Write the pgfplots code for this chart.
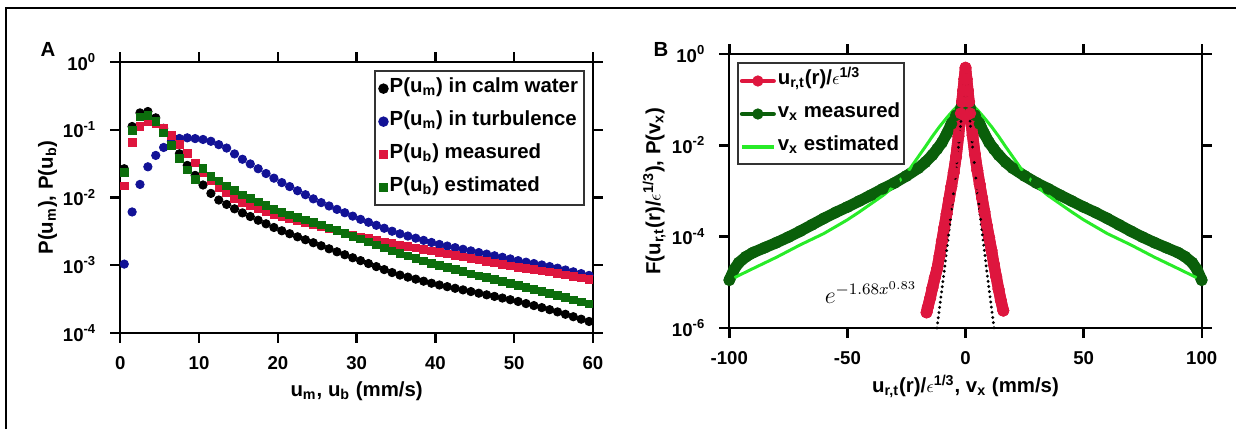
\documentclass[border=0pt]{standalone}
\usepackage{fontspec}
\setmainfont{Liberation Sans}
\usepackage{pgfplots}
\pgfplotsset{compat=1.18}
\definecolor{cblue}{RGB}{18,18,150}
\definecolor{cred}{RGB}{222,22,62}
\definecolor{cgreenA}{RGB}{12,110,12}
\definecolor{cgreenB}{RGB}{10,95,10}
\definecolor{clime}{RGB}{40,235,40}
\newcommand\tickfont{\fontsize{9.3}{10}\selectfont\bfseries}
\newcommand\labfont{\fontsize{10.2}{12}\selectfont\bfseries}
\newcommand\eps{{\normalfont\fontsize{9}{10}\selectfont$\epsilon$}}
\pgfplotsset{
  igorstyle/.style={
    scale only axis,
    axis line style={line width=1pt},
    tick align=outside,
    major tick length=5pt,
    major tick style={draw=black, line width=1.2pt},
    yminorticks=false,
    tick label style={font=\tickfont},
    xticklabel style={yshift=-3pt},
    yticklabel style={xshift=-3.5pt},
    label style={font=\labfont},
    clip=false,
    legend style={font=\labfont, draw=black!80, line width=1pt, row sep=0pt,
      nodes={inner sep=1pt, text height=9pt, text depth=5.5pt}},
    legend cell align=left,
  },
}
\begin{document}
\begin{tikzpicture}
\useasboundingbox (0,0) rectangle (618pt,214.5pt);
\draw[line width=0.7pt] (3pt,0pt) -- (3pt,210.5pt) -- (618pt,210.5pt);
\node[font=\labfont] at (24pt,190pt) {A};
\node[font=\labfont] at (330.5pt,190pt) {B};

% ---------------- Panel A ----------------
\begin{semilogyaxis}[igorstyle, at={(60.15pt,48pt)}, anchor=south west, width=236.35pt, height=135.5pt,
  xmin=0, xmax=60, ymin=1e-4, ymax=1,
  xtick={0,10,20,30,40,50,60}, xticklabels={0,10,20,30,40,50,60},
  ytick={1e-4,1e-3,1e-2,1e-1,1},
  yticklabels={10\textsuperscript{-4},10\textsuperscript{-3},10\textsuperscript{-2},10\textsuperscript{-1},10\textsuperscript{0}},
  xlabel={u\textsubscript{m}, u\textsubscript{b} (mm/s)},
  ylabel={P(u\textsubscript{m}), P(u\textsubscript{b})},
  xlabel style={at={(axis description cs:0.5,-0.215)}, anchor=center},
  ylabel style={at={(axis description cs:-0.154,0.5)}, anchor=center},
  legend style={at={(axis description cs:0.983,0.970)}, anchor=north east, inner xsep=2pt, inner ysep=0.5pt},
  legend image code/.code={\draw[mark repeat=2,mark phase=2,#1] plot coordinates {(0pt,0pt) (7pt,0pt) (14pt,0pt)};},
  after end axis/.code={
    \foreach \t in {0,...,6} {
      \draw[line width=1.2pt, black] (rel axis cs:\t/6,0) -- ++(0pt,-5pt);
      \draw[line width=1.2pt, black] (rel axis cs:\t/6,1) -- ++(0pt,5pt);
    }
    \foreach \t in {0,...,4} {
      \draw[line width=1.2pt, black] (rel axis cs:0,\t/4) -- ++(-5pt,0pt);
      \draw[line width=1.2pt, black] (rel axis cs:1,\t/4) -- ++(5pt,0pt);
    }
  },
]
\addplot[only marks, mark=*, mark size=2.1pt, black] table {
0.5 2.66e-2
1.5 0.1117
2.5 0.1774
3.5 0.186
4.5 0.150
5.5 0.105
6.5 0.0676
7.5 0.0442
8.5 0.0298
9.5 0.0212
10.5 0.0153
11.5 0.0115
12.5 0.00918
13.5 0.00791
14.5 0.00681
15.5 0.00593
16.5 0.00524
17.5 0.00462
18.5 0.00409
19.5 0.00361
20.5 0.00323
21.5 0.00292
22.5 0.00263
23.5 0.00238
24.5 0.00215
25.5 0.00194
26.5 0.00175
27.5 0.00158
28.5 0.00143
29.5 0.00129
30.5 0.00117
31.5 0.00106
32.5 9.55e-4
33.5 8.63e-4
34.5 7.80e-4
35.5 7.16e-4
36.5 6.68e-4
37.5 6.24e-4
38.5 5.82e-4
39.5 5.43e-4
40.5 5.11e-4
41.5 4.83e-4
42.5 4.57e-4
43.5 4.33e-4
44.5 4.09e-4
45.5 3.87e-4
46.5 3.66e-4
47.5 3.47e-4
48.5 3.28e-4
49.5 3.10e-4
50.5 2.92e-4
51.5 2.72e-4
52.5 2.54e-4
53.5 2.37e-4
54.5 2.21e-4
55.5 2.05e-4
56.5 1.89e-4
57.5 1.74e-4
58.5 1.60e-4
59.5 1.48e-4
};
\addlegendentry{P(u\textsubscript{m}) in calm water}
\addplot[only marks, mark=*, mark size=2.1pt, cblue] table {
0.5 1.04e-3
1.5 6.12e-3
2.5 1.56e-2
3.5 2.84e-2
4.5 4.18e-2
5.5 5.48e-2
6.5 6.64e-2
7.5 7.43e-2
8.5 7.60e-2
9.5 7.41e-2
10.5 7.19e-2
11.5 6.76e-2
12.5 6.03e-2
13.5 5.37e-2
14.5 4.40e-2
15.5 3.67e-2
16.5 3.13e-2
17.5 2.66e-2
18.5 2.26e-2
19.5 1.93e-2
20.5 1.66e-2
21.5 1.45e-2
22.5 1.26e-2
23.5 1.10e-2
24.5 9.55e-3
25.5 8.41e-3
26.5 7.50e-3
27.5 6.68e-3
28.5 5.96e-3
29.5 5.31e-3
30.5 4.76e-3
31.5 4.31e-3
32.5 3.89e-3
33.5 3.52e-3
34.5 3.18e-3
35.5 2.91e-3
36.5 2.70e-3
37.5 2.51e-3
38.5 2.33e-3
39.5 2.17e-3
40.5 2.03e-3
41.5 1.92e-3
42.5 1.82e-3
43.5 1.72e-3
44.5 1.63e-3
45.5 1.54e-3
46.5 1.46e-3
47.5 1.38e-3
48.5 1.31e-3
49.5 1.24e-3
50.5 1.17e-3
51.5 1.11e-3
52.5 1.06e-3
53.5 1.01e-3
54.5 9.57e-4
55.5 9.06e-4
56.5 8.51e-4
57.5 8.00e-4
58.5 7.53e-4
59.5 7.08e-4
};
\addlegendentry{P(u\textsubscript{m}) in turbulence}
\addplot[only marks, mark=square*, mark size=1.9pt, cred] table {
0.5 1.48e-2
1.5 6.56e-2
2.5 0.113
3.5 0.132
4.5 0.124
5.5 0.107
6.5 8.22e-2
7.5 6.07e-2
8.5 4.47e-2
9.5 3.26e-2
10.5 2.32e-2
11.5 1.75e-2
12.5 1.41e-2
13.5 1.17e-2
14.5 9.77e-3
15.5 8.47e-3
16.5 7.66e-3
17.5 6.92e-3
18.5 6.25e-3
19.5 5.65e-3
20.5 5.19e-3
21.5 4.84e-3
22.5 4.52e-3
23.5 4.22e-3
24.5 3.94e-3
25.5 3.67e-3
26.5 3.43e-3
27.5 3.20e-3
28.5 2.99e-3
29.5 2.79e-3
30.5 2.62e-3
31.5 2.48e-3
32.5 2.34e-3
33.5 2.22e-3
34.5 2.10e-3
35.5 1.99e-3
36.5 1.89e-3
37.5 1.80e-3
38.5 1.71e-3
39.5 1.63e-3
40.5 1.55e-3
41.5 1.47e-3
42.5 1.40e-3
43.5 1.33e-3
44.5 1.26e-3
45.5 1.20e-3
46.5 1.14e-3
47.5 1.08e-3
48.5 1.03e-3
49.5 9.79e-4
50.5 9.35e-4
51.5 8.97e-4
52.5 8.61e-4
53.5 8.26e-4
54.5 7.93e-4
55.5 7.57e-4
56.5 7.21e-4
57.5 6.87e-4
58.5 6.55e-4
59.5 6.24e-4
};
\addlegendentry{P(u\textsubscript{b}) measured}
\addplot[only marks, mark=square*, mark size=1.9pt, cgreenA] table {
0.5 2.37e-2
1.5 9.86e-2
2.5 0.155
3.5 0.162
4.5 0.134
5.5 9.02e-2
6.5 5.86e-2
7.5 3.75e-2
8.5 2.55e-2
9.5 1.85e-2
10.5 2.70e-2
11.5 2.07e-2
12.5 1.75e-2
13.5 1.48e-2
14.5 1.27e-2
15.5 1.10e-2
16.5 9.75e-3
17.5 8.61e-3
18.5 7.60e-3
19.5 6.71e-3
20.5 6.04e-3
21.5 5.55e-3
22.5 5.09e-3
23.5 4.68e-3
24.5 4.30e-3
25.5 3.93e-3
26.5 3.57e-3
27.5 3.25e-3
28.5 2.96e-3
29.5 2.69e-3
30.5 2.44e-3
31.5 2.21e-3
32.5 2.00e-3
33.5 1.80e-3
34.5 1.63e-3
35.5 1.49e-3
36.5 1.37e-3
37.5 1.26e-3
38.5 1.16e-3
39.5 1.07e-3
40.5 9.89e-4
41.5 9.23e-4
42.5 8.61e-4
43.5 8.04e-4
44.5 7.50e-4
45.5 7.01e-4
46.5 6.58e-4
47.5 6.17e-4
48.5 5.78e-4
49.5 5.42e-4
50.5 5.07e-4
51.5 4.73e-4
52.5 4.42e-4
53.5 4.12e-4
54.5 3.85e-4
55.5 3.58e-4
56.5 3.33e-4
57.5 3.10e-4
58.5 2.89e-4
59.5 2.69e-4
};
\addlegendentry{P(u\textsubscript{b}) estimated}
\end{semilogyaxis}

% ---------------- Panel B ----------------
\begin{semilogyaxis}[igorstyle, at={(364.65pt,50.5pt)}, anchor=south west, width=236.2pt, height=137pt,
  xmin=-100, xmax=100, ymin=1e-6, ymax=1,
  xtick={-100,-50,0,50,100}, xticklabels={-100,-50,0,50,100},
  ytick={1e-6,1e-4,1e-2,1},
  yticklabels={10\textsuperscript{-6},10\textsuperscript{-4},10\textsuperscript{-2},10\textsuperscript{0}},
  xlabel={u\textsubscript{r,t}(r)/\eps\textsuperscript{1/3}, v\textsubscript{x} (mm/s)},
  ylabel={F(u\textsubscript{r,t}(r)/\eps\textsuperscript{1/3}), P(v\textsubscript{x})},
  xlabel style={at={(axis description cs:0.5,-0.213)}, anchor=center},
  ylabel style={at={(axis description cs:-0.159,0.5)}, anchor=center},
  legend style={at={(axis description cs:0.016,0.969)}, anchor=north west, inner xsep=1pt, inner ysep=0.5pt},
  legend image code/.code={\draw[mark repeat=2,mark phase=2,#1,line width=2pt,mark size=2.6pt] plot coordinates {(0pt,0pt) (8pt,0pt) (16pt,0pt)};},
  after end axis/.code={
    \foreach \t in {0,...,4} {
      \draw[line width=1.2pt, black] (rel axis cs:\t/4,0) -- ++(0pt,-5pt);
      \draw[line width=1.2pt, black] (rel axis cs:\t/4,1) -- ++(0pt,5pt);
    }
    \foreach \t in {0,...,3} {
      \draw[line width=1.2pt, black] (rel axis cs:0,\t/3) -- ++(-5pt,0pt);
      \draw[line width=1.2pt, black] (rel axis cs:1,\t/3) -- ++(5pt,0pt);
    }
  },
]
% red (first, for legend order; redrawn on top below)
\addplot[cred, line width=5.6pt, line join=round, line cap=round, mark=*, mark size=2.8pt, mark options={line width=0.4pt}] table {
-16.5 2.19e-6
-16 2.82e-6
-15 4.47e-6
-14 7.59e-6
-13 1.26e-5
-12 2.00e-5
-11 3.80e-5
-10 7.94e-5
-9 1.58e-4
-8 3.16e-4
-7 6.46e-4
-6 1.26e-3
-5 2.51e-3
-4 5.62e-3
-3 1.58e-2
-2 5.01e-2
-1.5 8.91e-2
-1 0.158
-0.5 0.282
0 0.501
0.5 0.282
1 0.158
1.5 8.91e-2
2 5.01e-2
3 1.66e-2
4 6.31e-3
5 2.82e-3
6 1.41e-3
7 7.08e-4
8 3.55e-4
9 1.78e-4
10 9.55e-5
11 5.01e-5
12 2.51e-5
13 1.32e-5
14 7.08e-6
15 3.98e-6
16 2.40e-6
};
\addlegendentry{u\textsubscript{r,t}(r)/\eps\textsuperscript{1/3}}
\addplot[cgreenB, line width=5.6pt, line join=round, line cap=round, mark=*, mark size=2.8pt, mark options={line width=0.4pt}] table {
-100 1.12e-5
-98 1.91e-5
-96 2.69e-5
-93 3.63e-5
-90 4.47e-5
-85 5.75e-5
-80 7.41e-5
-75 9.77e-5
-70 1.32e-4
-65 1.82e-4
-60 2.51e-4
-55 3.39e-4
-50 4.47e-4
-45 6.03e-4
-40 8.13e-4
-35 1.12e-3
-30 1.51e-3
-25 2.14e-3
-20 3.16e-3
-17 4.27e-3
-14 6.17e-3
-12 8.32e-3
-10 1.15e-2
-8 1.78e-2
-6 2.95e-2
-4 4.57e-2
-2 6.46e-2
0 8.32e-2
2 6.46e-2
4 4.57e-2
6 2.95e-2
8 1.78e-2
10 1.15e-2
12 8.32e-3
14 6.17e-3
17 4.27e-3
20 3.16e-3
25 2.14e-3
30 1.51e-3
35 1.12e-3
40 8.13e-4
45 6.03e-4
50 4.47e-4
55 3.39e-4
60 2.51e-4
65 1.82e-4
70 1.32e-4
75 9.77e-5
80 7.41e-5
85 5.75e-5
90 4.47e-5
93 3.63e-5
96 2.69e-5
98 1.91e-5
100 1.12e-5
};
\addlegendentry{v\textsubscript{x} measured}
\addplot[clime, line width=1.5pt, line join=round] table {
-100 1.12e-5
-90 2.00e-5
-80 3.55e-5
-70 6.61e-5
-60 1.17e-4
-50 2.34e-4
-45 3.47e-4
-40 5.25e-4
-35 7.94e-4
-30 1.29e-3
-25 2.40e-3
-20 5.62e-3
-17 9.33e-3
-14 1.58e-2
-11 2.57e-2
-8 3.98e-2
-5 6.03e-2
-3 7.59e-2
-1.5 8.91e-2
0 0.102
1.5 8.91e-2
3 7.59e-2
5 6.03e-2
8 3.98e-2
11 2.57e-2
14 1.58e-2
17 9.33e-3
20 5.62e-3
25 2.40e-3
30 1.29e-3
35 7.94e-4
40 5.25e-4
45 3.47e-4
50 2.34e-4
60 1.17e-4
70 6.61e-5
80 3.55e-5
90 2.00e-5
100 1.12e-5
};
\addlegendentry{v\textsubscript{x} estimated}
\addplot[forget plot, cred, line width=5.6pt, line join=round, line cap=round, mark=*, mark size=2.8pt, mark options={line width=0.4pt}] table {
-16.5 2.19e-6
-16 2.82e-6
-15 4.47e-6
-14 7.59e-6
-13 1.26e-5
-12 2.00e-5
-11 3.80e-5
-10 7.94e-5
-9 1.58e-4
-8 3.16e-4
-7 6.46e-4
-6 1.26e-3
-5 2.51e-3
-4 5.62e-3
-3 1.58e-2
-2 5.01e-2
-1.5 8.91e-2
-1 0.158
-0.5 0.282
0 0.501
0.5 0.282
1 0.158
1.5 8.91e-2
2 5.01e-2
3 1.66e-2
4 6.31e-3
5 2.82e-3
6 1.41e-3
7 7.08e-4
8 3.55e-4
9 1.78e-4
10 9.55e-5
11 5.01e-5
12 2.51e-5
13 1.32e-5
14 7.08e-6
15 3.98e-6
16 2.40e-6
};
\addplot[forget plot, black, line width=1.6pt, line cap=round, dash pattern=on 0pt off 2.6pt] table {
-12.1 1.0e-6
-11 2.8e-6
-10 7.0e-6
-9 1.8e-5
-8 4.8e-5
-7 1.3e-4
-6 3.6e-4
-5 1.0e-3
-4 2.9e-3
-3 9.2e-3
-2 3.0e-2
-1 0.112
-0.5 0.233
0 0.6
};
\addplot[forget plot, black, line width=1.6pt, line cap=round, dash pattern=on 0pt off 2.6pt] table {
0 0.6
0.5 0.233
1 0.112
2 3.0e-2
3 9.2e-3
4 2.9e-3
5 1.0e-3
6 3.6e-4
7 1.3e-4
8 4.8e-5
9 1.8e-5
10 7.0e-6
11 2.8e-6
12.1 1.0e-6
};
\node[font=\fontsize{11.5}{13}\selectfont] at (axis cs:-40,6e-6) {$e^{-1.68x^{0.83}}$};
\end{semilogyaxis}
\end{tikzpicture}
\end{document}
